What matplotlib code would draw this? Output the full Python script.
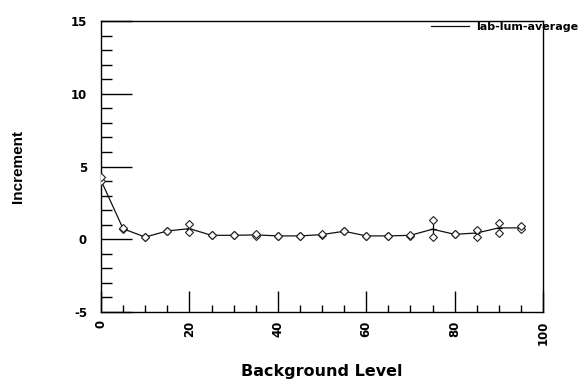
import matplotlib
matplotlib.use("Agg")
import matplotlib.pyplot as plt
from matplotlib.ticker import MultipleLocator
import numpy as np

background = [0, 5, 10, 15, 20, 25, 30, 35, 40, 45, 50, 55, 60, 65, 70, 75, 80, 85, 90, 95]
increment_mean = [4.05, 0.72, 0.15, 0.57, 0.73, 0.27, 0.27, 0.30, 0.23, 0.23,
                  0.32, 0.55, 0.23, 0.23, 0.27, 0.69, 0.34, 0.43, 0.78, 0.78]
increment_low = [4.00, 0.70, 0.15, 0.57, 0.50, 0.27, 0.27, 0.25, 0.23, 0.23,
                 0.28, 0.55, 0.23, 0.23, 0.22, 0.16, 0.34, 0.16, 0.46, 0.69]
increment_high = [4.30, 0.75, 0.15, 0.57, 1.08, 0.27, 0.27, 0.35, 0.23, 0.23,
                  0.36, 0.55, 0.23, 0.23, 0.32, 1.31, 0.34, 0.62, 1.15, 0.92]
series_label = "lab-lum-average"
x_ticks = [0, 20, 40, 60, 80, 100]
y_ticks = [-5, 0, 5, 10, 15]

plt.rcParams['font.family'] = ['DejaVu Sans']
plt.rcParams['font.weight'] = 'bold'
plt.rcParams['axes.unicode_minus'] = False

fig = plt.figure(figsize=(5.8, 3.79), dpi=100)
ax = fig.add_axes([101/580, 1-312/379, 442/580, 291/379])

x = np.array(background)
lo = np.array(increment_low)
hi = np.array(increment_high)
mean = np.array(increment_mean)

ax.plot(x, mean, color='#111111', lw=0.9, label=series_label, zorder=3)
ax.vlines(x, lo, hi, color='black', lw=0.9, zorder=3)
ax.plot(x, mean, ls='none', marker='_', ms=5, color='black', mew=0.9, zorder=4)
ax.plot(x, lo, ls='none', marker='D', ms=4.2, mfc='white', mec='#222222', mew=0.8, zorder=5)
ax.plot(x, hi, ls='none', marker='D', ms=4.2, mfc='white', mec='#222222', mew=0.8, zorder=5)

ax.set_xlim(0, 100)
ax.set_ylim(-5, 15)
ax.set_xticks(x_ticks)
ax.set_yticks(y_ticks)
ax.xaxis.set_minor_locator(MultipleLocator(5))
ax.yaxis.set_minor_locator(MultipleLocator(1))
ax.tick_params(axis='x', which='major', direction='in', length=15, width=1, labelsize=8.5, pad=6,
               labelrotation=90, top=False)
ax.tick_params(axis='x', which='minor', direction='in', length=5, width=1, top=False)
ax.tick_params(axis='y', which='major', direction='in', length=22, width=1, labelsize=8.5, pad=10, right=False)
ax.tick_params(axis='y', which='minor', direction='in', length=8, width=1, right=False)
for lab in ax.get_xticklabels() + ax.get_yticklabels():
    lab.set_fontweight('bold')

for s in ax.spines.values():
    s.set_linewidth(1)
    s.set_color('black')

ax.set_xlabel("Background Level", fontsize=11.5, fontweight='bold')
ax.xaxis.set_label_coords((322-101)/442, -(364-312)/291)
ax.set_ylabel("Increment", fontsize=11, fontweight='bold', family=['Liberation Sans'])
ax.yaxis.set_label_coords((25-101)/442, 0.5)

leg = ax.legend(loc='upper right', bbox_to_anchor=(578/580, 1-22/379), bbox_transform=fig.transFigure,
                frameon=False, fontsize=8, handlelength=3.4, handletextpad=0.6,
                borderpad=0, borderaxespad=0)
for t in leg.get_texts():
    t.set_fontweight('bold')

fig.savefig("out.png", dpi=100)
